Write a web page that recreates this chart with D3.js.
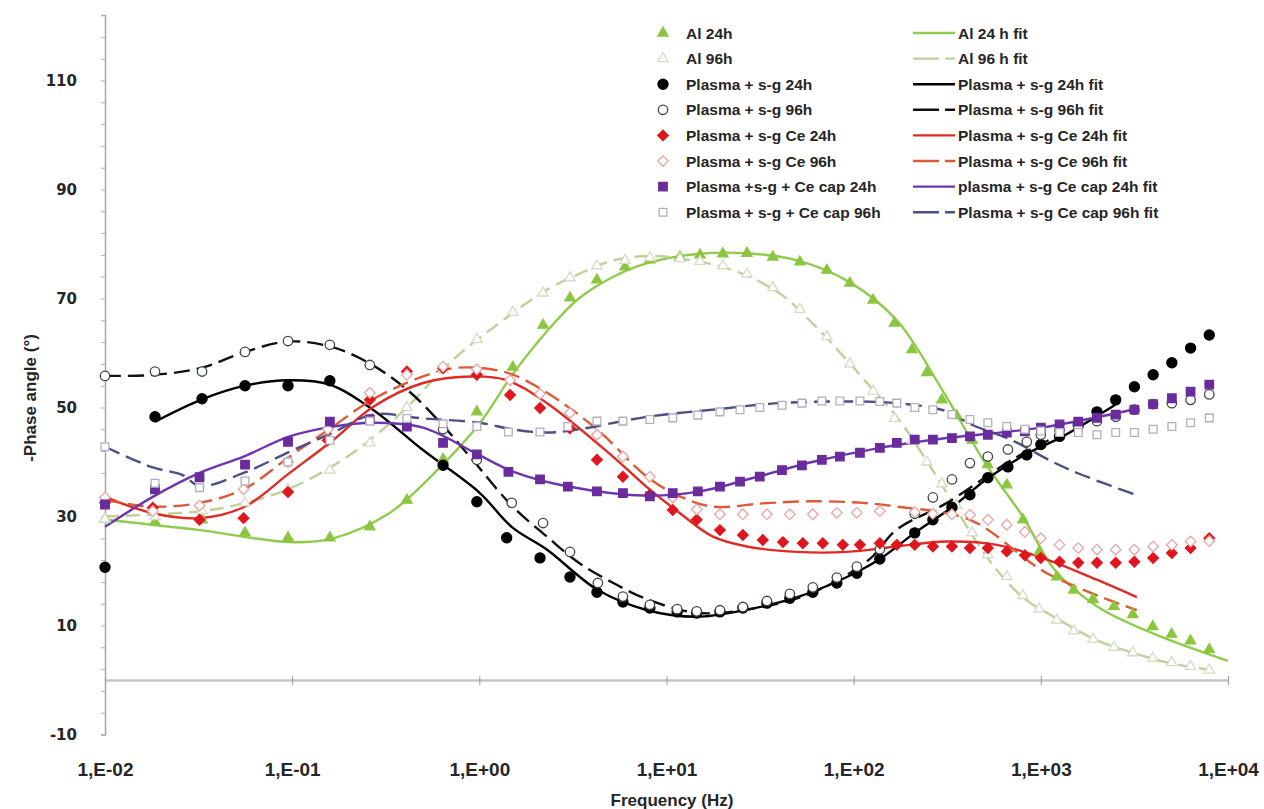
<!DOCTYPE html>
<html><head><meta charset="utf-8">
<script src="https://cdn.jsdelivr.net/npm/d3@7"></script>
<style>
body{margin:0;background:#fff;}
svg{display:block;}
text{font-family:"Liberation Sans Narrow","Arial Narrow","Liberation Sans",sans-serif;fill:#262626;}
</style>
</head><body>
<svg id="chart" width="1264" height="809"></svg>
<script>
// ---------- DATA ----------
const xTicks = [0.01, 0.1, 1, 10, 100, 1000, 10000];
const yTicks = [-10, 10, 30, 50, 70, 90, 110];

// Al 24h (markers)
const al24F = [0.01,0.0185,0.033,0.056,0.095,0.159,0.26,0.41,0.64,0.97,1.51,2.19,3.05,4.25,6.0,8.15,11.8,15.1,20,26.9,37,51.6,72,95.5,127,165,205,246,296,355,430,520,658,802,980,1217,1500,1900,2460,3100,3960,5000,6300,7943];
const al24V = [29.5,29.0,29.4,27.0,26.1,26.1,28.1,33.0,40.5,49.2,57.4,65.1,70.1,73.4,75.8,77.1,77.6,78.0,78.2,78.3,77.6,76.7,75.2,72.8,69.7,65.5,60.6,56.4,51.4,48.5,44.0,39.5,35.8,29.4,23.5,18.9,16.5,14.8,13.5,12.0,9.8,8.4,7.2,5.6];
// Al 96h (markers)
const al96F = al24F;
const al96V = [29.5,30,31,32.5,35,38.5,43.5,50,57,62.5,67.5,71,73.8,76,77,77.5,77.3,76.8,76,74.5,72,68,63,58,53,48,44,40,36,32,27,23,19,15.5,13,11,9,7.5,6,5,4,3.2,2.5,1.8];
// Al fits
const al24FitF = [0.01,0.032,0.097,0.165,0.33,0.62,1.0,1.5,2.3,3.4,5.2,7.9,15,27,50,95,170,300,500,800,1200,2000,4000,10000];
const al24FitV = [29.4,27.5,25.3,26.0,30.6,39.1,47.0,56.0,64.0,70.0,74.0,76.5,78.2,78.3,77.0,73.0,66.0,53.0,40.0,30.0,20.0,13.5,8.5,3.5];
const al96FitF = [0.01,0.033,0.056,0.095,0.16,0.26,0.41,0.72,1.4,2.3,3.4,5.2,8,12,22.6,40,60,92,127,170,250,530,800,1260,1990,3100,4900,9000];
const al96FitV = [30,31,32.5,35,39,44,50,58.7,66.5,71.6,74.5,77,77.8,77.3,75.2,71,65.5,58.7,53.2,48.3,39.8,22,15.2,11,7.3,5.0,3.1,1.6];

// Plasma + s-g 24h / 96h
const sg24F = [0.01,0.0185,0.033,0.056,0.095,0.159,0.64,0.97,1.40,2.11,3.05,4.25,5.85,8.15,11.4,14.5,19.3,25.6,34.4,45.6,60.5,81.3,104,138,212,265,335,418,521,667,841,1000,1259,1585,1995,2512,3162,3981,5012,6310,7943];
const sg24V = [20.7,48.3,51.6,54.0,54.0,54.9,39.4,32.7,26.1,22.4,18.9,16.1,14.3,13.2,12.5,12.3,12.5,13.2,14.1,15.0,16.1,17.8,19.6,22.2,27.0,29.4,31.7,34.0,37.1,39.1,41.3,43.2,44.7,46.8,49.2,51.4,53.8,56.0,58.2,60.9,63.3];
const sg96F = [0.01,0.0185,0.033,0.056,0.095,0.159,0.26,0.64,0.97,1.49,2.19,3.05,4.3,5.85,8.15,11.4,14.5,19.3,25.6,34.4,45.6,60.5,81.3,104,138,212,265,335,418,521,667,841,1000,1259,1585,1995,2512,3162,3981,5012,6310,7943];
const sg96V = [55.8,56.6,56.6,60.2,62.2,61.5,57.8,46.0,40.4,32.5,28.8,23.5,17.8,15.3,13.8,13.0,12.6,12.8,13.4,14.5,15.8,17.0,18.8,20.8,24.0,30.5,33.5,36.8,39.8,41.0,42.3,43.7,45.0,45.8,46.5,47.5,48.3,49.6,50.6,50.8,51.4,52.4];
const sg24FitF = [0.0185,0.033,0.056,0.095,0.159,0.27,0.5,1.0,1.5,2.3,4.3,7.9,14.5,26,50,92,138,212,335,521,841,1295,2500];
const sg24FitV = [47.4,51.5,54.0,55.0,54.2,49.6,42.2,34.4,28.0,23.9,16.5,12.8,11.6,12.8,15.2,18.9,22.2,27.0,31.7,37.0,41.5,44.6,50.5];
const sg96FitF = [0.01,0.0185,0.033,0.056,0.095,0.159,0.25,0.41,0.62,0.92,1.5,2.3,3.4,5.2,7.9,14.7,30,60,120,170,315,700,1100];
const sg96FitV = [55.8,56.0,57.3,60.2,62.1,61.2,58.4,53.3,47.2,40.4,31.9,26.3,21.5,17.8,14.8,12.3,13.2,16.0,22.0,27.6,32.5,40.4,44.0];

// Plasma + s-g Ce 24h / 96h
const ce24F = [0.01,0.018,0.032,0.055,0.095,0.155,0.26,0.41,0.64,0.97,1.46,2.11,3.05,4.25,5.85,8.15,10.8,14.5,19.3,25.6,32.7,41.9,53.5,68.4,87.5,108,138,170,212,265,335,418,521,658,822,1000,1259,1585,1995,2512,3162,3981,5012,6310,7943];
const ce24V = [32.5,31.6,29.4,29.7,34.5,44.0,51.4,56.6,57.2,56.0,52.3,49.9,46.2,40.4,37.3,34.0,31.2,29.4,27.5,26.6,25.7,25.3,25.1,25.1,24.8,24.8,25.1,24.8,24.8,24.5,24.5,24.2,24.2,23.6,22.9,22.4,21.7,21.5,21.5,21.5,21.7,22.4,23.3,24.2,26.0];
const ce96F = [0.01,0.018,0.032,0.055,0.095,0.155,0.26,0.41,0.64,0.97,1.46,2.11,3.05,4.25,5.85,8.15,10.8,14.5,19.3,25.6,34.4,45.6,60.5,81.3,104,138,212,265,335,418,521,658,822,1000,1259,1585,1995,2512,3162,3981,5012,6310,7943];
const ce96V = [33.5,31.0,32.0,35.0,40.0,46.0,52.7,56.0,57.5,57.0,55.0,52.5,49.0,45.0,41.0,37.3,33.5,31.3,30.4,30.4,30.4,30.4,30.4,30.7,30.7,31.0,30.8,30.5,30.4,30.3,29.4,28.5,27.2,26.0,24.8,24.2,23.9,23.9,23.9,24.5,24.8,25.4,25.5];
const ce24FitF = [0.01,0.018,0.032,0.055,0.097,0.165,0.27,0.5,0.92,1.4,2.3,5.17,7.86,11.8,17.7,26.9,50,92,170,315,582,1077,1990,3258];
const ce24FitV = [33.6,30.6,29.7,31.7,38.0,44.0,50.1,54.5,55.7,55.0,50.8,41.0,35.4,30.6,26.3,24.5,23.5,23.5,24.5,25.4,24.8,22.1,18.4,15.2];
const ce96FitF = [0.01,0.018,0.032,0.055,0.097,0.165,0.27,0.5,0.76,1.4,2.3,4.25,7.86,11.8,17.7,32.7,60,112,170,418,1077,3258];
const ce96FitV = [33.0,31.8,32.5,35.0,41.0,46.5,51.5,55.7,57.3,56.4,52.7,46.0,37.3,33.7,31.8,32.4,32.8,32.5,31.8,29.4,19.6,12.8];

// Plasma + s-g + Ce cap 24h / 96h
const cap24F = [0.01,0.0185,0.032,0.056,0.095,0.159,0.26,0.41,0.64,0.97,1.43,2.11,2.97,4.25,5.85,8.15,10.8,14.7,19.3,24.7,31.5,41.4,52.9,67.6,84.4,108,138,170,212,265,335,418,521,658,822,1000,1259,1585,1995,2512,3162,3981,5012,6310,7943];
const cap24V = [32.2,35.0,37.2,39.5,43.7,47.4,47.8,46.5,43.5,41.4,38.2,36.8,35.5,34.6,34.3,33.7,34.3,34.6,35.5,36.4,37.3,38.5,39.4,40.4,41.0,41.7,42.6,43.5,44.1,44.1,44.4,44.7,45.0,45.4,45.6,46.3,46.9,47.4,48.1,48.7,49.6,50.6,51.7,52.9,54.2];
const cap96F = cap24F;
const cap96V = [42.8,36.1,35.3,36.5,40.0,44.0,47.5,48.0,47.0,46.5,45.5,45.5,46.5,47.5,47.5,47.8,48.1,48.6,49.2,49.6,50.0,50.4,50.8,51.2,51.2,51.2,51.1,50.8,50.0,49.6,48.7,47.8,47.2,46.5,46.0,45.7,45.4,45.4,45.0,45.4,45.4,46.0,46.5,47.2,48.1];
const cap24FitF = [0.01,0.018,0.032,0.055,0.097,0.165,0.27,0.5,0.97,1.5,3,8,15,30,60,138,300,1000,3000];
const cap24FitV = [28.1,33.6,38.0,41.0,44.7,46.5,47.2,46.3,41.5,38.3,35.5,33.8,34.6,37.2,40.0,42.6,44.3,46.3,49.5];
const cap96FitF = [0.01,0.018,0.026,0.032,0.055,0.097,0.165,0.27,0.5,1.0,1.5,2.3,3.4,7.9,17.7,40,92,170,315,418,700,1130,1615,3381];
const cap96FitV = [42.8,39.0,37.6,35.6,38.0,41.9,45.4,48.7,48.0,47.2,46.0,45.4,46.0,48.3,49.6,50.8,51.1,50.8,49.3,47.0,44.0,40.2,37.8,33.7];

// Legend labels
const markerLabels = ["Al 24h","Al 96h","Plasma + s-g 24h","Plasma + s-g 96h","Plasma + s-g Ce 24h","Plasma + s-g Ce 96h","Plasma +s-g + Ce cap 24h","Plasma + s-g + Ce cap 96h"];
const fitLabels = ["Al 24 h fit","Al 96 h fit","Plasma + s-g 24h fit","Plasma + s-g 96h fit","Plasma + s-g Ce 24h fit","Plasma + s-g Ce 96h fit","plasma + s-g Ce cap 24h fit","Plasma + s-g Ce cap 96h fit"];

// ---------- STYLE TABLES ----------
const markerSeries = [
  {f:al24F, v:al24V, shape:"triangle", fill:"#8cc63f", stroke:"#8cc63f", size:46},
  {f:al96F, v:al96V, shape:"triangle", fill:"#fff", stroke:"#d4dcc4", size:46},
  {f:sg24F, v:sg24V, shape:"circle", fill:"#000", stroke:"#000", size:80},
  {f:sg96F, v:sg96V, shape:"circle", fill:"#fff", stroke:"#3d4a45", size:70},
  {f:ce24F, v:ce24V, shape:"diamond", fill:"#e0161e", stroke:"#e0161e", size:56},
  {f:ce96F, v:ce96V, shape:"diamond", fill:"#fff", stroke:"#e6a6a6", size:56},
  {f:cap24F, v:cap24V, shape:"square", fill:"#6a2c9c", stroke:"#6a2c9c", size:72},
  {f:cap96F, v:cap96V, shape:"square", fill:"#fff", stroke:"#b3aebd", size:60}
];
const fitSeries = [
  {f:al24FitF, v:al24FitV, color:"#8fcc4e", dash:null},
  {f:al96FitF, v:al96FitV, color:"#bcd296", dash:"14,7"},
  {f:sg24FitF, v:sg24FitV, color:"#000", dash:null},
  {f:sg96FitF, v:sg96FitV, color:"#111", dash:"16,7"},
  {f:ce24FitF, v:ce24FitV, color:"#e02a24", dash:null},
  {f:ce96FitF, v:ce96FitV, color:"#dd5a36", dash:"16,7"},
  {f:cap24FitF, v:cap24FitV, color:"#6f35b0", dash:null},
  {f:cap96FitF, v:cap96FitV, color:"#4d4f85", dash:"16,7"}
];

// ---------- SCALES ----------
const svg = d3.select("#chart");
const x = d3.scaleLog().domain([0.01, 10000]).range([105, 1228]);
const y = d3.scaleLinear().domain([-10, 122]).range([734.5, 15.1]);

// ---------- AXES ----------
svg.append("g").attr("transform","translate(105,0)")
  .call(d3.axisLeft(y).tickValues(d3.range(-10, 123, 4)).tickSize(4).tickFormat(""))
  .call(g => { g.select(".domain").attr("stroke","#a6a6a6").attr("stroke-width",1.5);
               g.selectAll(".tick line").attr("stroke","#b0b0b0"); });
svg.append("g").attr("transform","translate(105,0)")
  .call(d3.axisLeft(y).tickValues(yTicks).tickSize(0).tickPadding(28).tickFormat(d => String(d)))
  .call(g => { g.select(".domain").remove();
               g.selectAll("text").style("font-family","'DejaVu Sans',sans-serif")
                 .style("font-size","15px").style("font-weight","bold").attr("fill","#3a3a3a"); });

svg.append("g").attr("transform",`translate(0,${y(0)})`)
  .call(d3.axisBottom(x).tickValues(xTicks).tickSizeInner(5).tickSizeOuter(0).tickFormat(""))
  .call(g => { g.select(".domain").attr("stroke","#c4c4c4").attr("stroke-width",2.5);
               g.selectAll(".tick line").attr("stroke","#9a9a9a").attr("y1",-4); });
const fmt = d => { const e = Math.round(Math.log10(d)); return "1,E" + (e < 0 ? "-" : "+") + String(Math.abs(e)).padStart(2,"0"); };
svg.append("g").attr("transform","translate(0,762)")
  .call(d3.axisBottom(x).tickValues(xTicks).tickSize(0).tickPadding(0).tickFormat(fmt))
  .call(g => { g.select(".domain").remove();
               g.selectAll("text").style("font-size","19px").style("font-weight","bold").attr("fill","#333"); });

svg.append("text").attr("x", 672).attr("y", 806).attr("text-anchor","middle")
  .style("font-size","17px").style("font-weight","bold").text("Frequency (Hz)");
svg.append("text").attr("transform","translate(36,398) rotate(-90)").attr("text-anchor","middle")
  .style("font-size","17px").style("font-weight","bold").text("-Phase angle (°)");

// ---------- FIT LINES ----------
const lineGen = d3.line().curve(d3.curveCatmullRom.alpha(0.5));
fitSeries.forEach(s => {
  const pts = s.f.map((f,i) => [x(f), y(s.v[i])]);
  svg.append("path").attr("d", lineGen(pts)).attr("fill","none")
    .attr("stroke", s.color).attr("stroke-width", 2.4)
    .attr("stroke-dasharray", s.dash);
});

// ---------- MARKERS ----------
const symType = {triangle:d3.symbolTriangle, circle:d3.symbolCircle, diamond:d3.symbolSquare, square:d3.symbolSquare};
function drawMarker(g, s, cx, cy) {
  g.append("path").attr("d", d3.symbol().type(symType[s.shape]).size(s.size)())
    .attr("transform", `translate(${cx},${cy})` + (s.shape === "diamond" ? " rotate(45)" : ""))
    .attr("fill", s.fill).attr("stroke", s.stroke).attr("stroke-width", 1.3);
}
markerSeries.forEach(s => {
  const g = svg.append("g");
  s.f.forEach((f,i) => drawMarker(g, s, x(f), y(s.v[i])));
});

// ---------- LEGEND ----------
const legY = d3.range(8).map(i => 33 + i * 25.6);
const leg = svg.append("g");
markerLabels.forEach((t,i) => {
  drawMarker(leg, markerSeries[i], 663, legY[i]);
  leg.append("text").attr("x", 686).attr("y", legY[i] + 5.5)
    .style("font-size","15.5px").style("font-weight","bold").text(t);
});
fitLabels.forEach((t,i) => {
  const s = fitSeries[i];
  leg.append("line").attr("x1", 913).attr("x2", 955).attr("y1", legY[i]).attr("y2", legY[i])
    .attr("stroke", s.color).attr("stroke-width", 2.4).attr("stroke-dasharray", s.dash ? "26,6,10" : null);
  leg.append("text").attr("x", 958).attr("y", legY[i] + 5.5)
    .style("font-size","15.5px").style("font-weight","bold").text(t);
});
</script>
</body></html>
